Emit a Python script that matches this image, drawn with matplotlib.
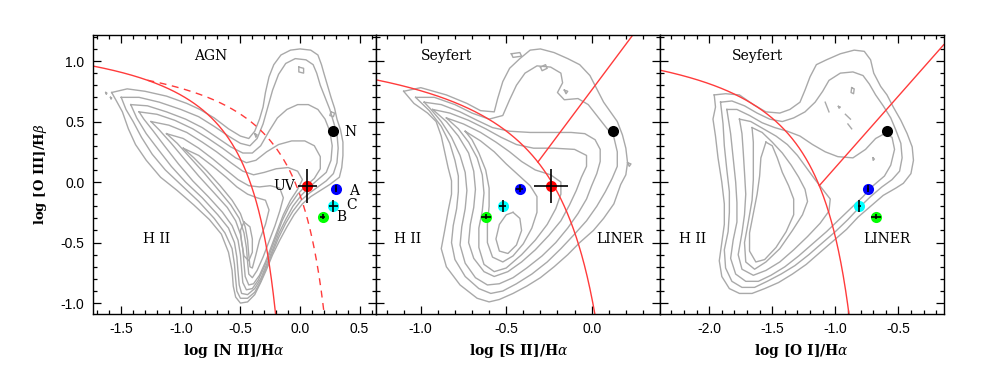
import numpy as np
import matplotlib
matplotlib.use('Agg')
import matplotlib.pyplot as plt
from matplotlib.ticker import MultipleLocator, FormatStrFormatter

plt.rcParams['mathtext.fontset'] = 'dejavuserif'

# measured line ratios (log) for the nucleus N, the UV knot and regions A, C, B
names = ['N', 'UV', 'A', 'C', 'B']
colors = ['#000000', '#ff0000', '#0000ff', '#00ffff', '#00ff00']
oiii_hb = [0.42, -0.03, -0.055, -0.20, -0.285]
oiii_hb_err = [0.0, 0.14, 0.03, 0.05, 0.02]
nii_ha = [0.28, 0.06, 0.30, 0.28, 0.19]
nii_ha_err = [0.0, 0.08, 0.01, 0.04, 0.02]
sii_ha = [0.125, -0.24, -0.42, -0.52, -0.62]
sii_ha_err = [0.0, 0.10, 0.02, 0.02, 0.03]
oi_ha = [-0.59, np.nan, -0.74, -0.81, -0.675]
oi_ha_err = [0.0, 0.0, 0.01, 0.01, 0.04]

# demarcation lines: y = a/(x-b)+c  and  y = m*x+k
ka03_nii = (0.61, 0.05, 1.30)
ke01_nii = (0.61, 0.47, 1.19)
ke01_sii = (0.72, 0.32, 1.30)
ke01_oi = (0.73, -0.59, 1.33)
ke06_sii = (1.89, 0.76)
ke06_oi = (1.18, 1.30)

# SDSS density contours (outer -> inner)
nii_contours = [
    [(-1.58, 0.74), (-1.45, 0.77), (-1.30, 0.75), (-1.12, 0.71), (-0.95, 0.65), (-0.84, 0.60), (-0.72, 0.53),
     (-0.60, 0.44), (-0.50, 0.38), (-0.43, 0.36), (-0.38, 0.42), (-0.34, 0.52), (-0.31, 0.62), (-0.29, 0.74),
     (-0.26, 0.87), (-0.22, 0.97), (-0.16, 1.05), (-0.08, 1.09), (0.0, 1.10), (0.09, 1.09), (0.15, 1.05),
     (0.18, 0.97), (0.20, 0.90), (0.23, 0.80), (0.26, 0.70), (0.29, 0.61), (0.31, 0.52), (0.34, 0.43),
     (0.36, 0.33), (0.36, 0.22), (0.35, 0.12), (0.33, 0.04), (0.25, -0.02), (0.17, -0.07), (0.09, -0.12),
     (0.02, -0.18), (-0.05, -0.27), (-0.11, -0.37), (-0.17, -0.48), (-0.23, -0.60), (-0.28, -0.72),
     (-0.33, -0.83), (-0.38, -0.93), (-0.44, -0.99), (-0.50, -1.00), (-0.54, -0.95), (-0.56, -0.86),
     (-0.57, -0.73), (-0.60, -0.58), (-0.66, -0.43), (-0.76, -0.31), (-0.89, -0.19), (-1.03, -0.07),
     (-1.17, 0.04), (-1.29, 0.18), (-1.38, 0.31), (-1.44, 0.44), (-1.49, 0.58), (-1.54, 0.67)],
    [(-1.50, 0.70), (-1.35, 0.70), (-1.18, 0.66), (-1.00, 0.60), (-0.85, 0.54), (-0.72, 0.46), (-0.60, 0.38),
     (-0.50, 0.32), (-0.42, 0.30), (-0.36, 0.36), (-0.31, 0.48), (-0.27, 0.62), (-0.23, 0.76), (-0.18, 0.89),
     (-0.12, 0.98), (-0.04, 1.02), (0.05, 1.01), (0.11, 0.97), (0.14, 0.90), (0.17, 0.80), (0.21, 0.70),
     (0.25, 0.60), (0.28, 0.50), (0.31, 0.40), (0.32, 0.28), (0.31, 0.16), (0.28, 0.07), (0.22, 0.01),
     (0.15, -0.04), (0.08, -0.09), (0.01, -0.15), (-0.06, -0.24), (-0.12, -0.34), (-0.18, -0.46),
     (-0.23, -0.58), (-0.28, -0.70), (-0.33, -0.82), (-0.38, -0.91), (-0.44, -0.96), (-0.50, -0.96),
     (-0.53, -0.90), (-0.54, -0.80), (-0.55, -0.68), (-0.57, -0.55), (-0.63, -0.42), (-0.72, -0.30),
     (-0.85, -0.16), (-0.99, -0.03), (-1.13, 0.10), (-1.24, 0.23), (-1.33, 0.37), (-1.40, 0.50), (-1.46, 0.60)],
    [(-1.42, 0.64), (-1.28, 0.63), (-1.12, 0.58), (-0.96, 0.52), (-0.82, 0.45), (-0.70, 0.37), (-0.58, 0.29),
     (-0.48, 0.24), (-0.40, 0.24), (-0.33, 0.30), (-0.26, 0.42), (-0.19, 0.53), (-0.11, 0.60), (-0.02, 0.64),
     (0.07, 0.64), (0.15, 0.60), (0.21, 0.52), (0.25, 0.42), (0.27, 0.30), (0.26, 0.18), (0.22, 0.08),
     (0.15, 0.02), (0.08, -0.04), (0.01, -0.11), (-0.06, -0.20), (-0.12, -0.31), (-0.18, -0.43),
     (-0.23, -0.56), (-0.28, -0.68), (-0.33, -0.80), (-0.38, -0.88), (-0.44, -0.93), (-0.49, -0.92),
     (-0.51, -0.85), (-0.52, -0.74), (-0.53, -0.62), (-0.55, -0.50), (-0.60, -0.38), (-0.69, -0.27),
     (-0.82, -0.13), (-0.96, 0.00), (-1.08, 0.13), (-1.19, 0.27), (-1.29, 0.40), (-1.37, 0.53)],
    [(-1.35, 0.58), (-1.20, 0.56), (-1.05, 0.51), (-0.90, 0.44), (-0.77, 0.36), (-0.65, 0.28), (-0.54, 0.20),
     (-0.45, 0.16), (-0.37, 0.18), (-0.28, 0.25), (-0.18, 0.31), (-0.07, 0.34), (0.04, 0.34), (0.12, 0.30),
     (0.17, 0.21), (0.17, 0.11), (0.12, 0.03), (0.05, -0.03), (-0.02, -0.10), (-0.09, -0.20), (-0.15, -0.32),
     (-0.20, -0.45), (-0.25, -0.58), (-0.30, -0.70), (-0.35, -0.81), (-0.40, -0.88), (-0.45, -0.89),
     (-0.48, -0.83), (-0.49, -0.72), (-0.50, -0.60), (-0.52, -0.48), (-0.57, -0.36), (-0.65, -0.25),
     (-0.77, -0.12), (-0.90, 0.01), (-1.02, 0.15), (-1.13, 0.29), (-1.23, 0.42), (-1.31, 0.52)],
    [(-1.25, 0.50), (-1.10, 0.47), (-0.95, 0.41), (-0.82, 0.33), (-0.70, 0.25), (-0.58, 0.16), (-0.48, 0.09),
     (-0.39, 0.06), (-0.30, 0.08), (-0.20, 0.11), (-0.10, 0.12), (-0.02, 0.09), (0.02, 0.02), (-0.02, -0.06),
     (-0.08, -0.15), (-0.14, -0.27), (-0.19, -0.40), (-0.24, -0.53), (-0.29, -0.66), (-0.34, -0.77),
     (-0.39, -0.84), (-0.43, -0.85), (-0.46, -0.78), (-0.47, -0.67), (-0.48, -0.55), (-0.50, -0.43),
     (-0.54, -0.32), (-0.61, -0.21), (-0.72, -0.09), (-0.85, 0.05), (-0.97, 0.19), (-1.08, 0.32), (-1.18, 0.43)],
    [(-1.12, 0.40), (-0.98, 0.36), (-0.85, 0.28), (-0.73, 0.19), (-0.62, 0.10), (-0.52, 0.02), (-0.43, -0.03),
     (-0.34, -0.04), (-0.25, -0.03), (-0.17, -0.05), (-0.14, -0.13), (-0.17, -0.24), (-0.21, -0.36),
     (-0.26, -0.49), (-0.31, -0.62), (-0.36, -0.73), (-0.40, -0.79), (-0.43, -0.76), (-0.44, -0.66),
     (-0.45, -0.54), (-0.47, -0.42), (-0.51, -0.30), (-0.58, -0.19), (-0.68, -0.07), (-0.80, 0.07),
     (-0.92, 0.20), (-1.03, 0.32)],
    [(-0.98, 0.28), (-0.85, 0.22), (-0.73, 0.13), (-0.62, 0.04), (-0.53, -0.04), (-0.44, -0.10), (-0.36, -0.13),
     (-0.29, -0.15), (-0.26, -0.23), (-0.29, -0.35), (-0.34, -0.48), (-0.37, -0.60), (-0.40, -0.71),
     (-0.42, -0.70), (-0.43, -0.60), (-0.44, -0.48), (-0.46, -0.37), (-0.50, -0.26), (-0.57, -0.15),
     (-0.67, -0.03), (-0.78, 0.09), (-0.89, 0.20)],
    [(-0.47, -0.33), (-0.42, -0.37), (-0.40, -0.47), (-0.40, -0.58), (-0.43, -0.65), (-0.47, -0.61),
     (-0.49, -0.50), (-0.50, -0.40)],
    # small isolated islands
    [(-0.01, 0.95), (0.03, 0.94), (0.03, 0.90), (-0.01, 0.91)],
    [(0.26, 0.58), (0.29, 0.57), (0.28, 0.54), (0.25, 0.55)],
    [(-0.38, 0.40), (-0.36, 0.39), (-0.37, 0.37)],
    [(-1.63, 0.74), (-1.62, 0.735), (-1.625, 0.725)],
    [(-1.59, 0.70), (-1.58, 0.695), (-1.585, 0.685)],
]

sii_contours = [
    [(-1.10, 0.75), (-1.00, 0.78), (-0.85, 0.72), (-0.73, 0.65), (-0.65, 0.59), (-0.57, 0.58), (-0.55, 0.69),
     (-0.52, 0.83), (-0.48, 0.94), (-0.42, 1.02), (-0.36, 1.09), (-0.30, 1.10), (-0.22, 1.07), (-0.14, 1.02),
     (-0.07, 0.97), (-0.01, 0.88), (0.03, 0.77), (0.07, 0.66), (0.11, 0.58), (0.15, 0.50), (0.18, 0.39),
     (0.20, 0.28), (0.21, 0.16), (0.20, 0.06), (0.17, -0.02), (0.13, -0.18), (0.07, -0.30), (0.01, -0.40),
     (-0.07, -0.50), (-0.14, -0.60), (-0.22, -0.70), (-0.30, -0.79), (-0.38, -0.86), (-0.46, -0.92),
     (-0.54, -0.97), (-0.60, -0.99), (-0.67, -0.96), (-0.77, -0.85), (-0.85, -0.70), (-0.88, -0.55),
     (-0.86, -0.40), (-0.84, -0.24), (-0.82, -0.10), (-0.82, 0.01), (-0.84, 0.12), (-0.86, 0.25),
     (-0.88, 0.38), (-0.91, 0.50), (-0.96, 0.57), (-1.04, 0.65)],
    [(-1.03, 0.70), (-0.92, 0.70), (-0.80, 0.64), (-0.70, 0.57), (-0.60, 0.52), (-0.52, 0.55), (-0.48, 0.68),
     (-0.44, 0.80), (-0.39, 0.90), (-0.32, 0.96), (-0.24, 0.95), (-0.18, 0.90), (-0.17, 0.82), (-0.20, 0.74),
     (-0.16, 0.68), (-0.08, 0.69), (-0.02, 0.64), (0.03, 0.55), (0.08, 0.46), (0.13, 0.37), (0.15, 0.25),
     (0.15, 0.13), (0.12, 0.03), (0.08, -0.08), (0.03, -0.20), (-0.03, -0.32), (-0.10, -0.43), (-0.18, -0.55),
     (-0.26, -0.66), (-0.35, -0.76), (-0.44, -0.84), (-0.52, -0.90), (-0.59, -0.92), (-0.66, -0.88),
     (-0.74, -0.78), (-0.80, -0.64), (-0.82, -0.50), (-0.81, -0.36), (-0.79, -0.22), (-0.78, -0.08),
     (-0.78, 0.05), (-0.80, 0.18), (-0.83, 0.32), (-0.88, 0.46), (-0.95, 0.59)],
    [(-0.98, 0.66), (-0.88, 0.64), (-0.77, 0.58), (-0.67, 0.51), (-0.58, 0.45), (-0.48, 0.42), (-0.36, 0.41),
     (-0.24, 0.41), (-0.12, 0.41), (-0.04, 0.40), (0.02, 0.35), (0.05, 0.27), (0.05, 0.17), (0.03, 0.07),
     (0.00, -0.03), (-0.03, -0.14), (-0.08, -0.26), (-0.14, -0.38), (-0.21, -0.50), (-0.29, -0.61),
     (-0.38, -0.71), (-0.46, -0.79), (-0.54, -0.84), (-0.61, -0.85), (-0.68, -0.79), (-0.74, -0.67),
     (-0.77, -0.52), (-0.76, -0.37), (-0.74, -0.22), (-0.73, -0.07), (-0.74, 0.08), (-0.77, 0.22),
     (-0.82, 0.37), (-0.88, 0.50), (-0.94, 0.60)],
    [(-0.93, 0.60), (-0.83, 0.57), (-0.72, 0.51), (-0.62, 0.44), (-0.53, 0.37), (-0.44, 0.31), (-0.34, 0.28),
     (-0.22, 0.28), (-0.10, 0.27), (-0.03, 0.22), (-0.03, 0.13), (-0.06, 0.04), (-0.09, -0.07), (-0.13, -0.19),
     (-0.18, -0.32), (-0.25, -0.44), (-0.33, -0.56), (-0.41, -0.66), (-0.49, -0.74), (-0.57, -0.78),
     (-0.63, -0.74), (-0.69, -0.63), (-0.72, -0.50), (-0.71, -0.35), (-0.69, -0.21), (-0.68, -0.06),
     (-0.69, 0.09), (-0.72, 0.24), (-0.78, 0.38), (-0.85, 0.50)],
    [(-0.85, 0.53), (-0.75, 0.48), (-0.65, 0.41), (-0.56, 0.33), (-0.48, 0.25), (-0.41, 0.17), (-0.33, 0.10),
     (-0.24, 0.06), (-0.18, 0.00), (-0.18, -0.10), (-0.21, -0.22), (-0.26, -0.35), (-0.33, -0.48),
     (-0.41, -0.60), (-0.50, -0.71), (-0.57, -0.74), (-0.63, -0.68), (-0.66, -0.54), (-0.66, -0.38),
     (-0.64, -0.24), (-0.63, -0.09), (-0.64, 0.06), (-0.67, 0.20), (-0.72, 0.33), (-0.78, 0.44)],
    [(-0.74, 0.42), (-0.65, 0.34), (-0.57, 0.25), (-0.50, 0.15), (-0.43, 0.06), (-0.36, -0.03), (-0.32, -0.12),
     (-0.32, -0.25), (-0.35, -0.38), (-0.40, -0.51), (-0.46, -0.61), (-0.52, -0.66), (-0.58, -0.62),
     (-0.61, -0.50), (-0.61, -0.35), (-0.60, -0.20), (-0.60, -0.05), (-0.62, 0.10), (-0.66, 0.24), (-0.70, 0.35)],
    [(-0.46, -0.25), (-0.42, -0.30), (-0.41, -0.40), (-0.44, -0.52), (-0.49, -0.59), (-0.54, -0.57),
     (-0.56, -0.47), (-0.54, -0.35), (-0.50, -0.27)],
    # small isolated islands
    [(-0.47, 1.06), (-0.42, 1.07), (-0.41, 1.04), (-0.46, 1.03)],
    [(-0.30, 0.95), (-0.27, 0.97), (-0.26, 0.94), (-0.29, 0.92)],
    [(-0.16, 0.76), (-0.14, 0.75), (-0.15, 0.73)],
    [(0.21, 0.16), (0.23, 0.15), (0.22, 0.13)],
]

oi_contours = [
    [(-1.96, 0.72), (-1.87, 0.73), (-1.76, 0.72), (-1.65, 0.64), (-1.55, 0.58), (-1.44, 0.57), (-1.36, 0.60),
     (-1.28, 0.66), (-1.24, 0.76), (-1.20, 0.87), (-1.15, 0.97), (-1.07, 1.01), (-0.96, 1.06), (-0.85, 1.09),
     (-0.77, 1.08), (-0.72, 1.01), (-0.695, 0.90), (-0.64, 0.79), (-0.59, 0.72), (-0.54, 0.62), (-0.48, 0.51),
     (-0.43, 0.40), (-0.39, 0.29), (-0.38, 0.18), (-0.40, 0.07), (-0.46, -0.01), (-0.52, -0.05),
     (-0.62, -0.11), (-0.72, -0.20), (-0.82, -0.29), (-0.91, -0.39), (-1.02, -0.49), (-1.12, -0.58),
     (-1.23, -0.68), (-1.34, -0.76), (-1.45, -0.83), (-1.56, -0.88), (-1.66, -0.92), (-1.76, -0.92),
     (-1.84, -0.88), (-1.90, -0.78), (-1.92, -0.65), (-1.90, -0.50), (-1.88, -0.35), (-1.88, -0.18),
     (-1.90, 0.00), (-1.93, 0.20), (-1.95, 0.38), (-1.97, 0.52), (-1.95, 0.62)],
    [(-1.91, 0.66), (-1.82, 0.67), (-1.72, 0.63), (-1.62, 0.57), (-1.52, 0.52), (-1.42, 0.50), (-1.33, 0.53),
     (-1.24, 0.58), (-1.16, 0.66), (-1.10, 0.75), (-1.05, 0.84), (-0.96, 0.90), (-0.86, 0.91), (-0.78, 0.88),
     (-0.73, 0.81), (-0.68, 0.72), (-0.62, 0.63), (-0.56, 0.53), (-0.52, 0.43), (-0.48, 0.32), (-0.47, 0.20),
     (-0.49, 0.09), (-0.55, 0.02), (-0.63, -0.04), (-0.72, -0.12), (-0.81, -0.21), (-0.90, -0.31),
     (-1.00, -0.41), (-1.10, -0.50), (-1.21, -0.60), (-1.32, -0.69), (-1.43, -0.76), (-1.54, -0.82),
     (-1.64, -0.87), (-1.74, -0.87), (-1.82, -0.82), (-1.87, -0.71), (-1.88, -0.56), (-1.85, -0.41),
     (-1.84, -0.25), (-1.84, -0.08), (-1.86, 0.10), (-1.88, 0.30), (-1.89, 0.48)],
    [(-1.86, 0.60), (-1.78, 0.60), (-1.68, 0.55), (-1.58, 0.49), (-1.48, 0.45), (-1.38, 0.42), (-1.28, 0.38),
     (-1.18, 0.31), (-1.08, 0.25), (-0.98, 0.21), (-0.86, 0.20), (-0.76, 0.27), (-0.68, 0.36), (-0.61, 0.40),
     (-0.55, 0.37), (-0.53, 0.27), (-0.56, 0.14), (-0.61, 0.05), (-0.70, -0.03), (-0.78, -0.12),
     (-0.87, -0.21), (-0.97, -0.31), (-1.07, -0.41), (-1.18, -0.51), (-1.29, -0.61), (-1.40, -0.70),
     (-1.51, -0.77), (-1.61, -0.82), (-1.71, -0.82), (-1.79, -0.76), (-1.83, -0.63), (-1.81, -0.48),
     (-1.78, -0.33), (-1.78, -0.17), (-1.79, 0.00), (-1.81, 0.20), (-1.83, 0.40)],
    [(-1.76, 0.52), (-1.67, 0.50), (-1.57, 0.44), (-1.47, 0.38), (-1.38, 0.31), (-1.30, 0.22), (-1.23, 0.12),
     (-1.16, 0.02), (-1.10, -0.06), (-1.04, -0.14), (-1.05, -0.24), (-1.12, -0.34), (-1.22, -0.45),
     (-1.33, -0.56), (-1.44, -0.66), (-1.55, -0.73), (-1.65, -0.77), (-1.74, -0.72), (-1.77, -0.60),
     (-1.74, -0.42), (-1.72, -0.27), (-1.71, -0.10), (-1.72, 0.08), (-1.73, 0.25), (-1.74, 0.40)],
    [(-1.66, 0.45), (-1.58, 0.41), (-1.50, 0.33), (-1.42, 0.24), (-1.35, 0.14), (-1.29, 0.04), (-1.24, -0.06),
     (-1.22, -0.16), (-1.26, -0.27), (-1.34, -0.40), (-1.44, -0.55), (-1.55, -0.66), (-1.64, -0.72),
     (-1.71, -0.66), (-1.72, -0.50), (-1.69, -0.33), (-1.66, -0.15), (-1.65, 0.02), (-1.65, 0.18), (-1.65, 0.33)],
    [(-1.55, 0.33), (-1.50, 0.30), (-1.46, 0.20), (-1.42, 0.08), (-1.37, -0.03), (-1.33, -0.14), (-1.33, -0.27),
     (-1.39, -0.41), (-1.47, -0.54), (-1.56, -0.64), (-1.63, -0.66), (-1.68, -0.57), (-1.68, -0.42),
     (-1.65, -0.26), (-1.62, -0.10), (-1.60, 0.05), (-1.59, 0.20)],
    # small isolated islands in the Seyfert plume
    [(-0.87, 0.78), (-0.85, 0.77), (-0.855, 0.73), (-0.875, 0.74)],
    [(-1.08, 0.66), (-1.05, 0.58)],
    [(-0.975, 0.625), (-0.96, 0.62), (-0.97, 0.61)],
    [(-0.92, 0.56), (-0.88, 0.52)],
    [(-0.90, 0.48), (-0.87, 0.44)],
    [(-0.70, 0.20), (-0.69, 0.19), (-0.70, 0.18)],
]

GREY = '#a9a9a9'
RED = '#ff3b3b'
serif = 'DejaVu Serif'
sans = 'Liberation Sans'


def draw_contours(ax, contours):
    for c in contours:
        xs = [p[0] for p in c]
        ys = [p[1] for p in c]
        if len(c) > 2:
            xs.append(c[0][0])
            ys.append(c[0][1])
        ax.plot(xs, ys, color=GREY, lw=1.0, zorder=1)


def hyperbola(ax, coef, x0, ybot, **kw):
    a, b, c = coef
    x_end = b + a / (ybot - c)
    x = np.linspace(x0, x_end, 400)
    ax.plot(x, a / (x - b) + c, color=RED, lw=1.0, zorder=2, **kw)


def divider(ax, coef, line, x1):
    a, b, c = coef
    m, k = line
    r = np.roots([m, -(m * b + c - k), (c - k) * b - a])
    xi = min(r.real)
    x = np.linspace(xi, x1, 50)
    ax.plot(x, m * x + k, color=RED, lw=1.0, zorder=2)


def draw_points(ax, xv, xerr):
    for i in range(len(names)):
        if np.isnan(xv[i]):
            continue
        ax.plot(xv[i], oiii_hb[i], 'o', color=colors[i], ms=8, mec='none', zorder=4)
        if xerr[i] > 0 or oiii_hb_err[i] > 0:
            ax.errorbar(xv[i], oiii_hb[i], xerr=xerr[i], yerr=oiii_hb_err[i], fmt='none',
                        ecolor='black', elinewidth=1.2, capsize=0, zorder=5)


def style(ax, xlim, label, show_y):
    ax.set_xlim(*xlim)
    ax.set_ylim(-1.09, 1.215)
    ax.xaxis.set_major_locator(MultipleLocator(0.5))
    ax.xaxis.set_minor_locator(MultipleLocator(0.1))
    ax.yaxis.set_major_locator(MultipleLocator(0.5))
    ax.yaxis.set_minor_locator(MultipleLocator(0.1))
    ax.xaxis.set_major_formatter(FormatStrFormatter('%.1f'))
    ax.yaxis.set_major_formatter(FormatStrFormatter('%.1f'))
    ax.tick_params(which='both', direction='in', top=True, right=True, width=0.9)
    ax.tick_params(which='major', length=6, pad=6, labelsize=10)
    ax.tick_params(which='minor', length=3)
    for lab in ax.get_xticklabels() + ax.get_yticklabels():
        lab.set_family(sans)
    if not show_y:
        ax.tick_params(labelleft=False)
    for s in ax.spines.values():
        s.set_linewidth(1.0)
    ax.set_xlabel(label, fontsize=10, family=serif, fontweight='bold', labelpad=4)


fig = plt.figure(figsize=(9.81, 3.74), dpi=100)
w, h, b = 0.2892, 0.746, 0.1604
ax1 = fig.add_axes([0.0944, b, w, h])
ax2 = fig.add_axes([0.0944 + w, b, w, h])
ax3 = fig.add_axes([0.0944 + 2 * w, b, w, h])

tk = dict(family=serif, fontsize=10, ha='center', va='center')

# [N II]
xl1 = (-1.74, 0.64)
draw_contours(ax1, nii_contours)
hyperbola(ax1, ka03_nii, xl1[0], -1.09)
hyperbola(ax1, ke01_nii, -1.28, -1.09, ls=(0, (5, 4)))
draw_points(ax1, nii_ha, nii_ha_err)
style(ax1, xl1, r'log [N II]/H$\alpha$', True)
ax1.set_ylabel(r'log [O III]/H$\beta$', fontsize=9.5, family=serif, fontweight='bold', labelpad=8)
ax1.text(-0.75, 1.04, 'AGN', **tk)
ax1.text(-1.20, -0.47, 'H II', **tk)
ax1.text(0.42, 0.41, 'N', **tk)
ax1.text(-0.04, -0.03, 'UV', family=serif, fontsize=10, ha='right', va='center')
ax1.text(0.45, -0.07, 'A', **tk)
ax1.text(0.43, -0.19, 'C', **tk)
ax1.text(0.345, -0.29, 'B', **tk)

# [S II]
xl2 = (-1.26, 0.40)
draw_contours(ax2, sii_contours)
hyperbola(ax2, ke01_sii, xl2[0], -1.09)
divider(ax2, ke01_sii, ke06_sii, 0.40)
draw_points(ax2, sii_ha, sii_ha_err)
style(ax2, xl2, r'log [S II]/H$\alpha$', False)
ax2.text(-0.85, 1.04, 'Seyfert', **tk)
ax2.text(-1.08, -0.47, 'H II', **tk)
ax2.text(0.166, -0.47, 'LINER', **tk)

# [O I]
xl3 = (-2.39, -0.14)
draw_contours(ax3, oi_contours)
hyperbola(ax3, ke01_oi, xl3[0], -1.09)
divider(ax3, ke01_oi, ke06_oi, -0.14)
draw_points(ax3, oi_ha, oi_ha_err)
style(ax3, xl3, r'log [O I]/H$\alpha$', False)
ax3.text(-1.62, 1.04, 'Seyfert', **tk)
ax3.text(-2.13, -0.47, 'H II', **tk)
ax3.text(-0.59, -0.47, 'LINER', **tk)

fig.savefig('out.png', dpi=100)
